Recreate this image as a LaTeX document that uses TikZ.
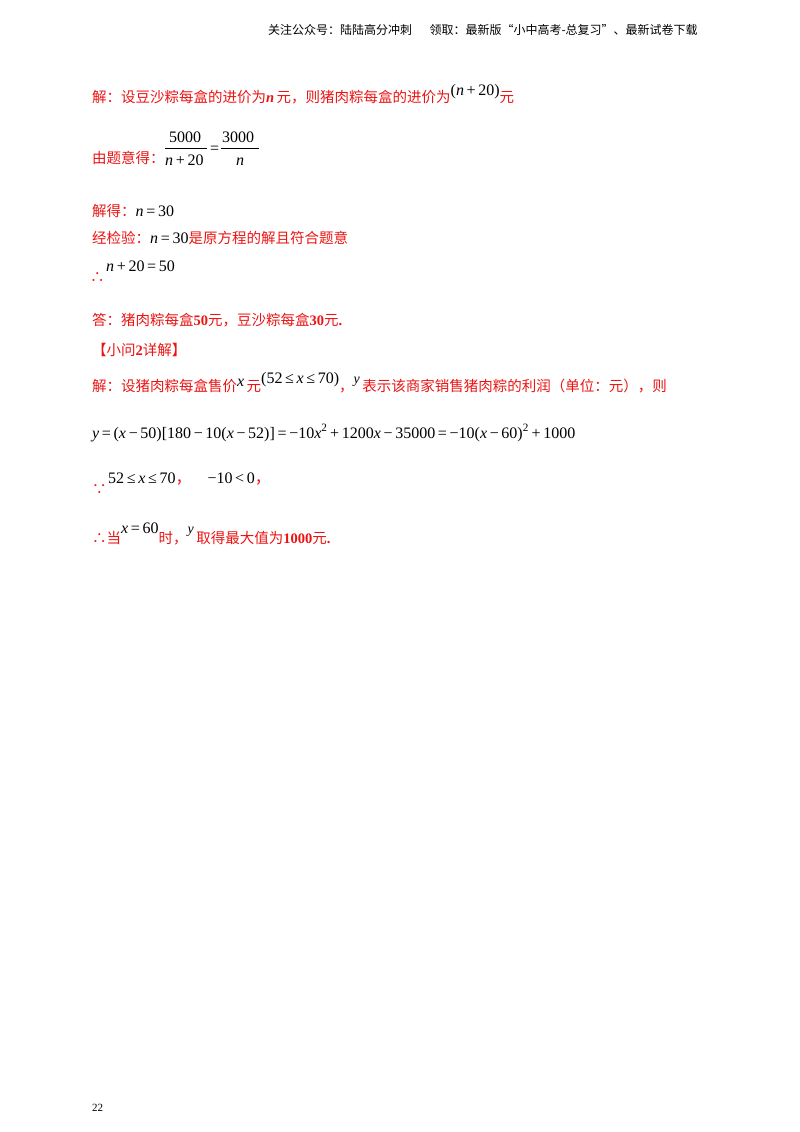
\documentclass[tikz,border=0pt]{standalone}
\usepackage{fontspec}
\setmainfont{Liberation Serif}
\newfontfamily\cjk{Noto Sans CJK SC}
\definecolor{rd}{RGB}{235,20,20}
\newcommand\vi[1]{\textit{#1}}
\newcommand\R[1]{{\color{rd}\cjk #1}}
\newcommand\Rn[1]{{\color{rd}\bfseries #1}}
\begin{document}
\begin{tikzpicture}[x=1pt,y=-1pt,
  t/.style={anchor=base west,inner sep=0pt,font=\fontsize{14.5}{16}\selectfont},
  m/.style={anchor=base west,inner sep=0pt,font=\fontsize{16}{18}\selectfont}]
\useasboundingbox (0,0) rectangle (800,1132);
\node[anchor=base west,inner sep=0pt,font=\cjk\fontsize{12}{14}\selectfont] (hd) at (268,35) {关注公众号：陆陆高分冲刺\quad\ ~领取：最新版“小中高考-总复习”、最新试卷下载};
% line 1
\node[t] (l1) at (92,102) {\R{解：设豆沙粽每盒的进价为}\Rn{\vi{n}}\,\R{元，则猪肉粽每盒的进价为}\raisebox{6pt}{\fontsize{16}{18}\selectfont(\vi{n}\,+\,20)}\R{元}};
% line 2
\node[t] (l2) at (92,163) {\R{由题意得：}};
\node[m] (f1n) at (169,142) {5000};
\draw (165,148) -- (207,148);
\node[m] (f1d) at (165,165) {\vi{n}\,+\,20};
\node[m] (eq) at (210,153) {=};
\node[m] (f2n) at (222,142) {3000};
\draw (221,148) -- (243,148) ;
\draw (221,148) -- (259,148);
\node[m] (f2d) at (236,165) {\vi{n}};
% line 3
\node[t] (l3) at (92,216) {\R{解得：}{\fontsize{16}{18}\selectfont\vi{n}\,=\,30}};
\node[t] (l4) at (92,243) {\R{经检验：}{\fontsize{16}{18}\selectfont\vi{n}\,=\,30}\R{是原方程的解且符合题意}};
\node[t] (l5a) at (90,282) {\R{∴}};
\node[m] (l5) at (106,271) {\vi{n}\,+\,20\,=\,50};
\node[t] (l6) at (92,325) {\R{答：猪肉粽每盒}\Rn{50}\R{元，豆沙粽每盒}\Rn{30}\R{元}\Rn{.}};
\node[t] (l7) at (92,355) {\R{【小问}\Rn{2}\R{详解】}};
\node[t] (l8) at (92,391) {\R{解：设猪肉粽每盒售价}\raisebox{5pt}{\fontsize{16}{18}\selectfont\vi{x}}\,\R{元}\raisebox{8pt}{\fontsize{16}{18}\selectfont(52\,≤\,\vi{x}\,≤\,70)}\R{，}\raisebox{8pt}{\fontsize{14}{16}\selectfont\vi{y}}\,\R{表示该商家销售猪肉粽的利润（单位：元），则}};
\node[m] (l9) at (92,438) {\vi{y}\,=\,(\vi{x}\,−\,50)[180\,−\,10(\vi{x}\,−\,52)]\,=\,−10\vi{x}\textsuperscript{2}\,+\,1200\vi{x}\,−\,35000\,=\,−10(\vi{x}\,−\,60)\textsuperscript{2}\,+\,1000};
\node[t] (l10a) at (92,494) {\R{∵}};
\node[m] (l10) at (108,483) {52\,≤\,\vi{x}\,≤\,70\R{，}\quad −10\,<\,0\R{，}};
\node[t] (l11) at (92,543) {\R{∴当}\raisebox{10pt}{\fontsize{16}{18}\selectfont\vi{x}\,=\,60}\R{时，}\raisebox{10pt}{\fontsize{14}{16}\selectfont\vi{y}}\,\R{取得最大值为}\Rn{1000}\R{元}\Rn{.}};
\node[anchor=base west,inner sep=0pt,font=\fontsize{11}{13}\selectfont] (pg) at (92,1111) {22};
\end{tikzpicture}
\end{document}
